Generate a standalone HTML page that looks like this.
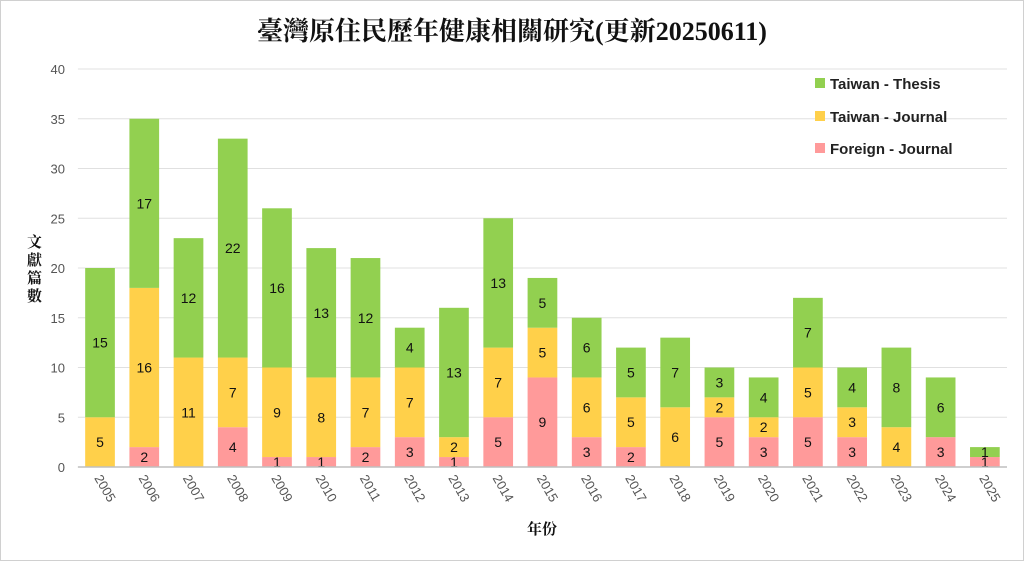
<!DOCTYPE html>
<html><head><meta charset="utf-8"><style>
body{margin:0;background:#fff}
svg{display:block;font-family:"Liberation Sans","Noto Sans CJK TC",sans-serif}
</style></head><body>
<svg id="chart" width="1024" height="561">
<rect x="0.5" y="0.5" width="1023" height="560" fill="#fff" stroke="#d0d0d0"/>
<text x="512" y="40" text-anchor="middle" font-size="26" font-weight="bold" font-family="'Liberation Serif','Noto Serif CJK SC',serif" fill="#111">臺灣原住民歷年健康相關研究(更新20250611)</text>
<g id="grid"></g><g id="bars"></g><g id="labels"></g><g id="axes"></g>
<text x="36" y="270" font-size="15" font-weight="bold" font-family="'Liberation Serif','Noto Serif CJK SC',serif" fill="#111"><tspan x="27" y="247">文</tspan><tspan x="27" y="265">獻</tspan><tspan x="27" y="283">篇</tspan><tspan x="27" y="301">數</tspan></text>
<text x="542" y="534" text-anchor="middle" font-size="15" font-weight="bold" font-family="'Liberation Serif','Noto Serif CJK SC',serif" fill="#111">年份</text>
<g>
<rect x="815" y="78" width="10" height="10" fill="#92d050"/>
<text x="830" y="89" font-size="15" font-weight="bold" fill="#222">Taiwan - Thesis</text>
<rect x="815" y="111" width="10" height="10" fill="#ffd04a"/>
<text x="830" y="122" font-size="15" font-weight="bold" fill="#222">Taiwan - Journal</text>
<rect x="815" y="143" width="10" height="10" fill="#ff9a9a"/>
<text x="830" y="154" font-size="15" font-weight="bold" fill="#222">Foreign - Journal</text>
</g>
</svg>
<script>
const years=["2005","2006","2007","2008","2009","2010","2011","2012","2013","2014","2015","2016","2017","2018","2019","2020","2021","2022","2023","2024","2025"];
const foreignJournal=[0,2,0,4,1,1,2,3,1,5,9,3,2,0,5,3,5,3,0,3,1];
const taiwanJournal=[5,16,11,7,9,8,7,7,2,7,5,6,5,6,2,2,5,3,4,0,0];
const taiwanThesis=[15,17,12,22,16,13,12,4,13,13,5,6,5,7,3,4,7,4,8,6,1];
const yTicks=[0,5,10,15,20,25,30,35,40];
const NS="http://www.w3.org/2000/svg";
const plotLeft=77.9,plotRight=1007,plotTop=69,plotBottom=467,yMax=40;
const bw=(plotRight-plotLeft)/years.length;
function yPos(v){return plotBottom-(v/yMax)*(plotBottom-plotTop);}
function xc(i){return plotLeft+bw*(i+0.5);}
function mk(tag,attrs,parent,txt){const e=document.createElementNS(NS,tag);for(const k in attrs)e.setAttribute(k,attrs[k]);if(txt!==undefined)e.textContent=txt;parent.appendChild(e);return e;}
const grid=document.getElementById('grid'),bars=document.getElementById('bars'),labels=document.getElementById('labels'),axes=document.getElementById('axes');
yTicks.forEach(t=>{
  const l=mk('line',{x1:plotLeft,x2:plotRight,y1:yPos(t),y2:yPos(t),stroke:'#e0e0e0','stroke-width':1},grid);
  
  
  const tx=mk('text',{x:65,y:yPos(t)+5,'text-anchor':'end','font-size':13,fill:'#555'},axes,String(t));
  
  
});
const base=mk('line',{x1:plotLeft,x2:plotRight,y1:plotBottom,y2:plotBottom,stroke:'#bfbfbf','stroke-width':1.5},axes);


const series=[[foreignJournal,'#ff9a9a','foreign'],[taiwanJournal,'#ffd04a','journal'],[taiwanThesis,'#92d050','thesis']];
const barW=29.7;
years.forEach((yr,i)=>{
  let acc=0;
  series.forEach(([arr,col,nm])=>{
    const v=arr[i];
    if(v>0){
      const r=mk('rect',{x:xc(i)-barW/2,y:yPos(acc+v),width:barW,height:yPos(acc)-yPos(acc+v),fill:col},bars);
      
      
      const t=mk('text',{x:xc(i),y:(yPos(acc)+yPos(acc+v))/2+5,'text-anchor':'middle','font-size':14,fill:'#111'},labels,String(v));
      
      
    }
    acc+=v;
  });
  const tl=mk('text',{x:0,y:0,'font-size':13,fill:'#555',transform:`translate(${xc(i)-6},478) rotate(60)`},axes,yr);
  
  
});
</script>
</body></html>
